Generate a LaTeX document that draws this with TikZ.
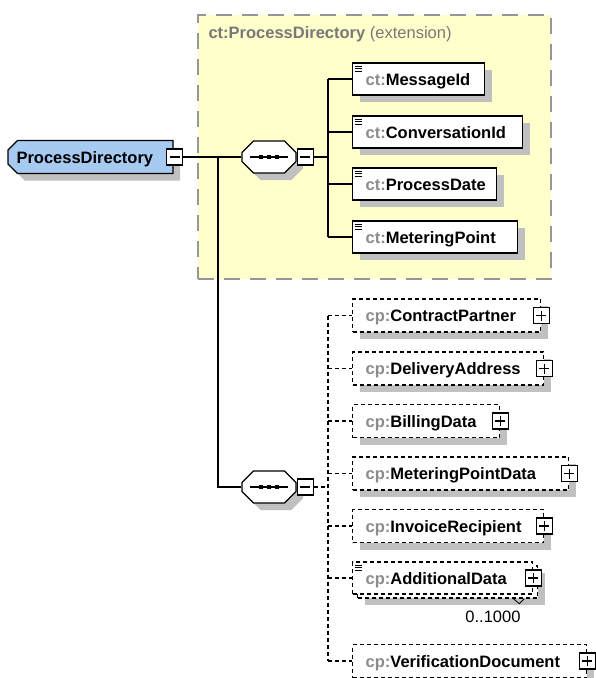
\documentclass[tikz,border=0pt]{standalone}
\usepackage{fontspec}
\setmainfont{Liberation Sans}
\usetikzlibrary{shapes.misc,shadows}

\definecolor{extyellow}{RGB}{255,255,204}
\definecolor{extborder}{RGB}{150,150,150}
\definecolor{rootblue}{RGB}{166,202,240}
\definecolor{shadowgray}{RGB}{192,192,192}
\definecolor{pfxgray}{RGB}{140,140,140}
\definecolor{titlegray}{RGB}{120,120,120}

\newcommand{\pfx}[1]{\textcolor{pfxgray}{#1}}
\newcommand{\elemfont}{\fontsize{16.5}{19}\selectfont\bfseries}
\newcommand{\occfont}{\fontsize{16.5}{19}\selectfont}

\begin{document}
\begin{tikzpicture}[x=1pt,y=-1pt,
    conn/.style={line width=1.3pt},
    dconn/.style={line width=1.3pt, dash pattern=on 4pt off 3pt},
    boxshadow/.style={drop shadow={shadow xshift=7pt, shadow yshift=-7pt, fill=shadowgray, opacity=1}},
    elembox/.style={draw, line width=1.3pt, fill=white, anchor=west, minimum height=32pt,
      inner xsep=0pt, inner ysep=0pt, text height=12pt, text depth=0pt, align=left, font=\elemfont},
    elem/.style={elembox, boxshadow},
    optbox/.style={elembox, dash pattern=on 4pt off 3pt, minimum height=33pt},
    optelem/.style={optbox, boxshadow},
    rootelem/.style={chamfered rectangle, chamfered rectangle corners={north west,south west},
      chamfered rectangle xsep=6pt, draw, line width=1.3pt, fill=rootblue, minimum width=165pt,
      minimum height=33pt, inner xsep=0pt, inner ysep=0pt, text width=148pt, text height=12pt,
      text depth=0pt, align=left, font=\elemfont, boxshadow},
    seq/.style={chamfered rectangle, chamfered rectangle xsep=8pt, draw, line width=1.3pt,
      fill=white, minimum width=54pt, minimum height=32pt, inner sep=8pt, boxshadow,
      path picture={
        \draw[black, line width=1.3pt] ([xshift=-19pt]path picture bounding box.center)
          -- ([xshift=19pt]path picture bounding box.center);
        \foreach \dx in {-8,0,8}
          \fill[black] ([shift={({\dx-2},-2)}]path picture bounding box.center) rectangle ++(4,4);}},
    toggle/.style={draw, line width=1.1pt, fill=white, minimum size=16pt, inner sep=0pt},
    minus/.style={toggle, path picture={
        \draw[line width=1.1pt] ([xshift=3pt]path picture bounding box.west)
          -- ([xshift=-3pt]path picture bounding box.east);}},
    plus/.style={toggle, path picture={
        \draw[line width=1.1pt] ([xshift=3pt]path picture bounding box.west)
          -- ([xshift=-3pt]path picture bounding box.east)
          ([yshift=3pt]path picture bounding box.south)
          -- ([yshift=-3pt]path picture bounding box.north);}},
    docmark/.style={line width=0.9pt},
    extbox/.style={draw=extborder, fill=extyellow, line width=2pt, dash pattern=on 16pt off 10pt,
      anchor=north west, minimum width=353pt, minimum height=264pt, inner sep=0pt}]

\useasboundingbox (0,0) rectangle (596,678);

% extension frame
\node[extbox] (ext) at (197,14) {};
\node[anchor=west, font=\elemfont, text=titlegray] (exttitle) at ([shift={(8,20)}]ext.north west)
  {ct:ProcessDirectory \textmd{(extension)}};

% root and the two sequences
\node[rootelem] (pdir) at (90.5,157) {ProcessDirectory};
\node[minus] (pdir-tog) at ([xshift=1pt]pdir.east) {};
\node[seq] (seq1) at (269,157) {};
\node[minus, anchor=west] (seq1-tog) at (seq1.east) {};
\node[seq] (seq2) at (269,487) {};
\node[minus, anchor=west] (seq2-tog) at (seq2.east) {};

\coordinate (fork) at (218,157);
\coordinate (bus1) at (328,157);
\coordinate (bus2) at (328,487);

\draw[conn] (pdir-tog) -- (seq1);
\draw[conn] (fork) |- (seq2);
\draw[conn] (seq1-tog) -- (bus1);
\draw[dconn] (seq2-tog) -- (bus2);

% inherited elements
\node[elem, minimum width=132pt, text width=106pt] (mid) at (352,79) {\pfx{ct:}MessageId};
\node[elem, minimum width=170pt, text width=144pt] (cid) at (352,132) {\pfx{ct:}ConversationId};
\node[elem, minimum width=144pt, text width=118pt] (pdate) at (352,184) {\pfx{ct:}ProcessDate};
\node[elem, minimum width=165pt, text width=139pt] (mpoint) at (352,237) {\pfx{ct:}MeteringPoint};

\draw[conn] (bus1 |- mid.west) -- (bus1 |- mpoint.west);
\foreach \n in {mid,cid,pdate,mpoint}
  \draw[conn] (bus1 |- \n.west) -- (\n.west);

% optional elements
\node[optelem, minimum width=188pt, text width=162pt] (cpartner) at (352,315.5) {\pfx{cp:}ContractPartner};
\node[optelem, minimum width=191pt, text width=165pt] (daddr) at (352,368.5) {\pfx{cp:}DeliveryAddress};
\node[optelem, minimum width=147pt, text width=121pt] (bdata) at (352,421) {\pfx{cp:}BillingData};
\node[optelem, minimum width=216pt, text width=190pt] (mpdata) at (352,473.5) {\pfx{cp:}MeteringPointData};
\node[optelem, minimum width=191pt, text width=165pt] (irecip) at (352,526) {\pfx{cp:}InvoiceRecipient};
\node[optelem, minimum width=180pt, text width=154pt, minimum height=32pt] (addback) at (357,582) {};
\node[optbox, minimum width=180pt, text width=154pt, minimum height=32pt] (adddata) at (352,578) {\pfx{cp:}AdditionalData};
\node[optelem, minimum width=234pt, text width=208pt] (verif) at (352,661) {\pfx{cp:}VerificationDocument};

\foreach \n in {cpartner,daddr,bdata,mpdata,irecip,adddata,verif}
  \node[plus] (\n-tog) at (\n.east) {};

\draw[dconn] (bus2 |- cpartner.west) -- (bus2 |- verif.west);
\foreach \n in {cpartner,daddr,bdata,mpdata,irecip,adddata,verif}
  \draw[dconn] (bus2 |- \n.west) -- (\n.west);

% documentation marks
\foreach \n in {mid,cid,pdate,mpoint,adddata}
  \foreach \dy in {4,6.5,9}
    \draw[docmark] ([shift={(2.5,\dy)}]\n.north west) -- ++(7,0);

% occurrence
\node[anchor=east, font=\occfont] (occ) at (524,617) {0..1000};
\draw[line width=0.8pt] ([xshift=-25pt]addback.south east) -- ++(6,5) -- ++(5,-5);

\end{tikzpicture}
\end{document}
